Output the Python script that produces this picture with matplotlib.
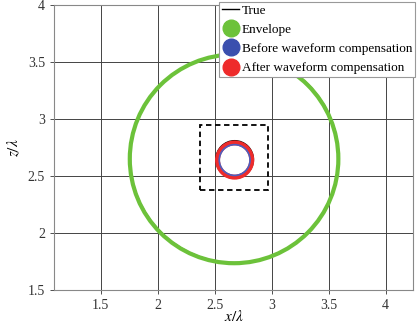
import matplotlib
matplotlib.use("Agg")
import matplotlib.pyplot as plt
from matplotlib.patches import Circle, Rectangle
from matplotlib.lines import Line2D

plt.rcParams['font.family'] = ['Liberation Serif', 'DejaVu Serif']
plt.rcParams['mathtext.fontset'] = 'stix'

# data
true_big = (2.675, 2.655, 0.915)
env_big = (2.67, 2.65, 0.915)
true_small = (2.675, 2.645, 0.165)
before_small = (2.675, 2.64, 0.135)
after_small = (2.675, 2.64, 0.15)
box = (2.37, 2.38, 0.60, 0.57)  # x0, z0, width, height
xticks = [1.5, 2, 2.5, 3, 3.5, 4]
yticks = [1.5, 2, 2.5, 3, 3.5, 4]

fig = plt.figure(figsize=(4.17, 3.25), dpi=100)
ax = fig.add_axes([54/417, 1 - 290/325, (413-54)/417, (290-5)/325])
ax.set_xlim(1.09, 4.24)
ax.set_ylim(1.5, 4.0)

ax.grid(True, color='#444444', linewidth=0.7)
ax.set_axisbelow(True)

ax.add_patch(Circle(true_big[:2], true_big[2], fill=False, ec='black', lw=1.0, zorder=3))
ax.add_patch(Circle(env_big[:2], env_big[2], fill=False, ec='#6cc23a', lw=3.0, zorder=4))
ax.add_patch(Circle(true_small[:2], true_small[2], fill=False, ec='black', lw=1.0, zorder=3))
ax.add_patch(Circle(after_small[:2], after_small[2], fill=False, ec='#ee2b2b', lw=3.6, zorder=4))
ax.add_patch(Circle(before_small[:2], before_small[2], fill=False, ec='#4a5fc0', lw=1.2, zorder=5))
ax.add_patch(Rectangle(box[:2], box[2], box[3], fill=False, ec='black', lw=1.3,
                       ls=(0, (3, 2)), zorder=6))

ax.set_xticks(xticks)
ax.set_yticks(yticks)
ax.set_xticklabels([f"{t:g}" for t in xticks])
ax.set_yticklabels([f"{t:g}" for t in yticks])
ax.tick_params(labelsize=10, length=3, width=0.6, colors='#333333')
for s in ax.spines.values():
    s.set_color('#888888')
    s.set_linewidth(0.8)

ax.set_xlabel(r'$x/\lambda$', fontsize=11, labelpad=-2)
ax.set_ylabel(r'$z/\lambda$', fontsize=11, labelpad=4)

handles = [
    Line2D([], [], color='black', lw=1.0),
    Line2D([], [], ls='none', marker='o', ms=12, mfc='#6cc23a', mec='#6cc23a'),
    Line2D([], [], ls='none', marker='o', ms=12, mfc='#3b4fae', mec='#3b4fae'),
    Line2D([], [], ls='none', marker='o', ms=12, mfc='#ee2b2b', mec='#ee2b2b'),
]
labels = ['True', 'Envelope', 'Before waveform compensation', 'After waveform compensation']
leg = ax.legend(handles, labels, loc='upper right', fontsize=9.5, frameon=True,
                fancybox=False, edgecolor='#999999', framealpha=1,
                borderpad=0.2, labelspacing=0.52, handlelength=1.3,
                handletextpad=0.2, borderaxespad=0,
                bbox_to_anchor=(415/417, 1 - 2/325), bbox_transform=fig.transFigure)
leg.get_frame().set_linewidth(0.8)
leg.set_zorder(10)

fig.savefig('out.png', dpi=100)
